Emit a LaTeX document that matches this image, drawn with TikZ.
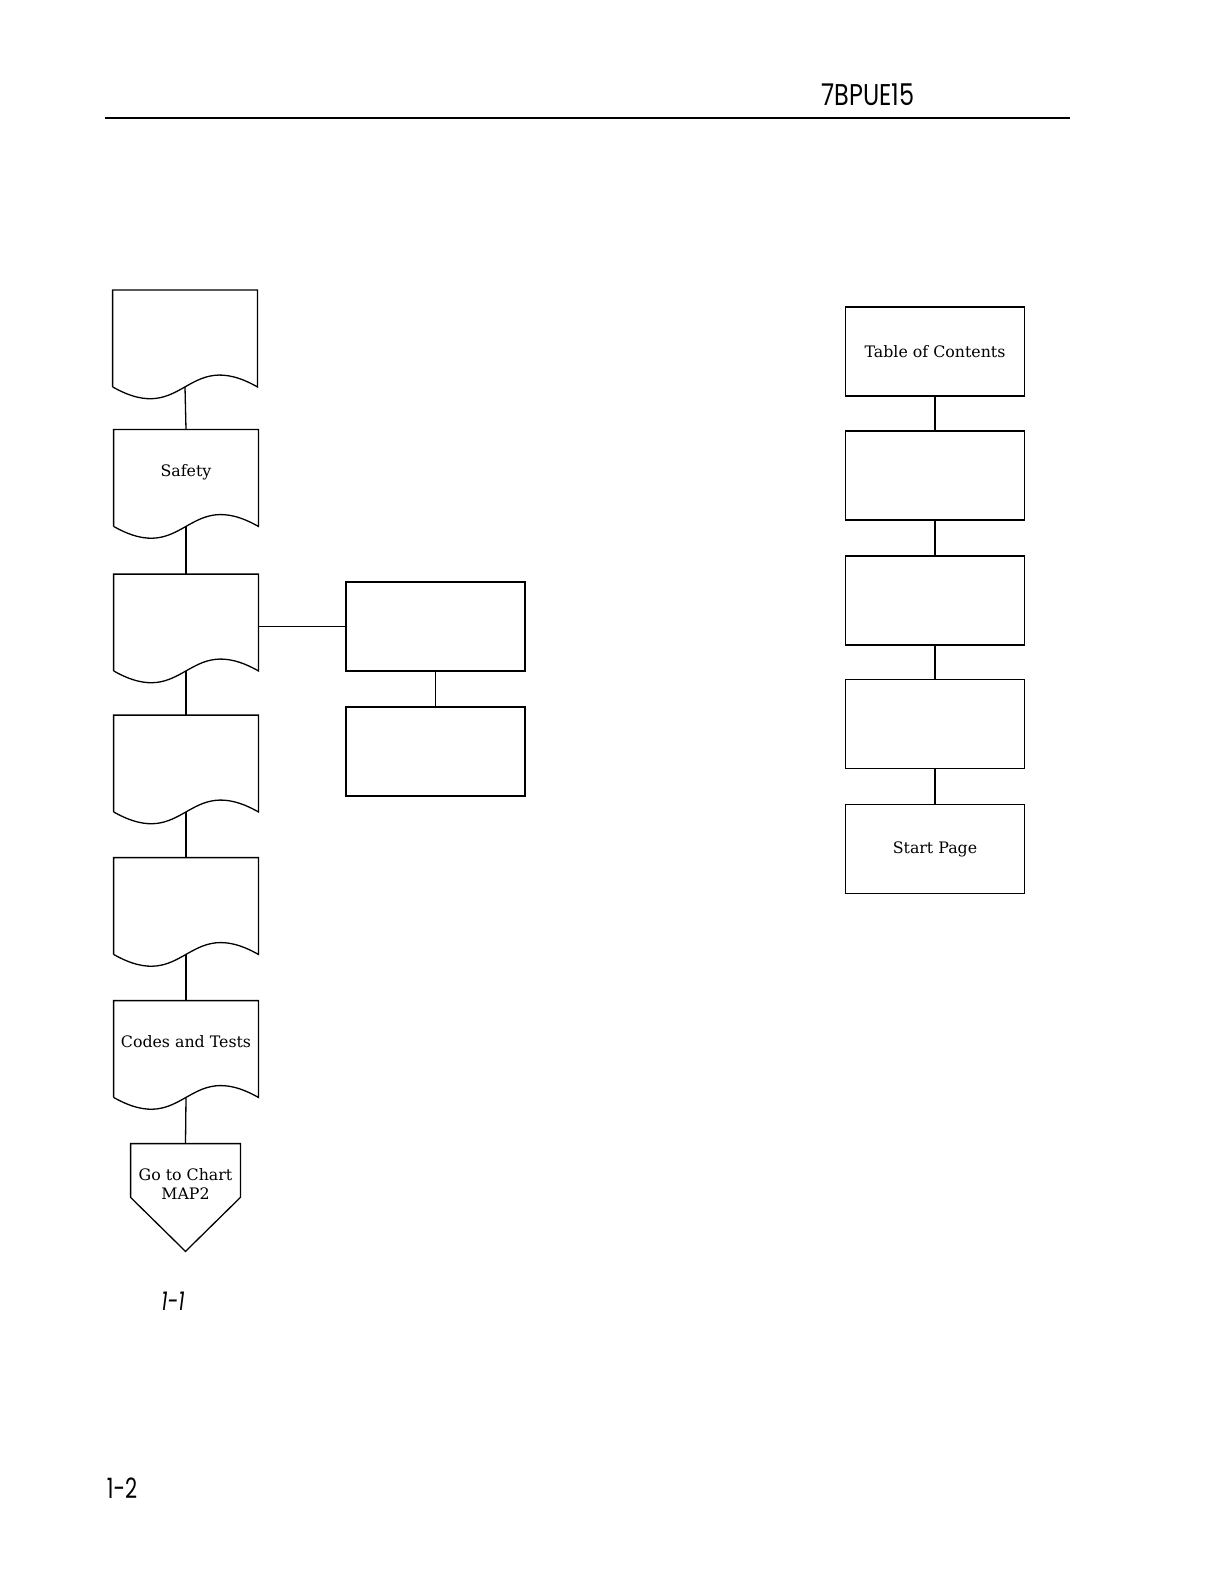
\documentclass[tikz,border=0pt]{standalone}
\usepackage{fontspec}
\usepackage{graphicx}
\usepackage{tikz}
\setmainfont{DejaVu Serif}
\newfontfamily\hdrfont{Poppins}

\tikzset{
    doc/.style={minimum width=72pt, minimum height=48pt, inner sep=0pt},
    box/.style={draw, line width=0.65pt, minimum width=89.5pt, minimum height=44.5pt, inner sep=0pt, font=\fontsize{7.9}{9}\selectfont},
    txt/.style={inner sep=0pt, align=center, font=\fontsize{7.9}{9.5}\selectfont},
    link/.style={line width=0.65pt},
}

% document outline with a wavy bottom
\newcommand{\docoutline}[1]{%
    \draw[link] (#1.south west) -- (#1.north west) -- (#1.north east) -- (#1.south east)
        .. controls ([yshift=20.5pt]#1.south) and ([yshift=-20.5pt]#1.south) .. (#1.south west);
}

\begin{document}
\begin{tikzpicture}[x=0.5pt, y=-0.5pt]
        \useasboundingbox (0,0) rectangle (1228,1582);

        % page header
        \node[inner sep=0pt, font=\hdrfont\fontsize{15}{18}\selectfont] (code) at (868,95) {\scalebox{0.8}[1]{7BPUE15}};
        \draw[line width=1.2pt] (105,118) -- (1070,118);

        % left column
        \node[doc] (d1) at (185,338.5) {};
        \node[doc] (d2) at (186,478) {};
        \node[doc] (d3) at (186,622.5) {};
        \node[doc] (d4) at (186,763.5) {};
        \node[doc] (d5) at (186,906) {};
        \node[doc] (d6) at (186,1049) {};
        \docoutline{d1}
        \docoutline{d2}
        \docoutline{d3}
        \docoutline{d4}
        \docoutline{d5}
        \docoutline{d6}
        \node[txt] (safety) at (186,472) {Safety};
        \node[txt] (codes) at (186,1042) {Codes and Tests};

        \node[doc, minimum width=54.5pt, minimum height=26.5pt] (goto) at (185.5,1170.5) {};
        \draw[link] (goto.south west) -- (goto.north west) -- (goto.north east) -- (goto.south east)
            -- ([yshift=-27pt]goto.south) -- cycle;
        \node[txt] (gototext) at (185.5,1184) {Go to Chart\\MAP2};

        \draw[link] (d1.south) -- (d2.north);
        \draw[link] (d2.south) -- (d3.north);
        \draw[link] (d3.south) -- (d4.north);
        \draw[link] (d4.south) -- (d5.north);
        \draw[link] (d5.south) -- (d6.north);
        \draw[link] (d6.south) -- (goto.north);

        % middle boxes
        \node[box] (ma) at (435.5,626.5) {};
        \node[box] (mb) at (435.5,751.5) {};
        \draw[link] (d3.east |- ma.west) -- (ma.west);
        \draw[link] (ma.south) -- (mb.north);

        % right column
        \node[box] (toc) at (935,351.5) {Table of Contents};
        \node[box] (r2) at (935,475.5) {};
        \node[box] (r3) at (935,600.5) {};
        \node[box] (r4) at (935,724) {};
        \node[box] (start) at (935,849) {Start Page};
        \draw[link] (toc.south) -- (r2.north);
        \draw[link] (r2.south) -- (r3.north);
        \draw[link] (r3.south) -- (r4.north);
        \draw[link] (r4.south) -- (start.north);

        % figure and page numbers
        \node[inner sep=0pt, font=\hdrfont\itshape\fontsize{13}{15}\selectfont] (fig) at (173,1301) {\scalebox{0.75}[1]{1-1}};
        \node[inner sep=0pt, font=\hdrfont\fontsize{14}{16}\selectfont] (page) at (122,1488) {\scalebox{0.75}[1]{1-2}};
    \end{tikzpicture}
\end{document}
